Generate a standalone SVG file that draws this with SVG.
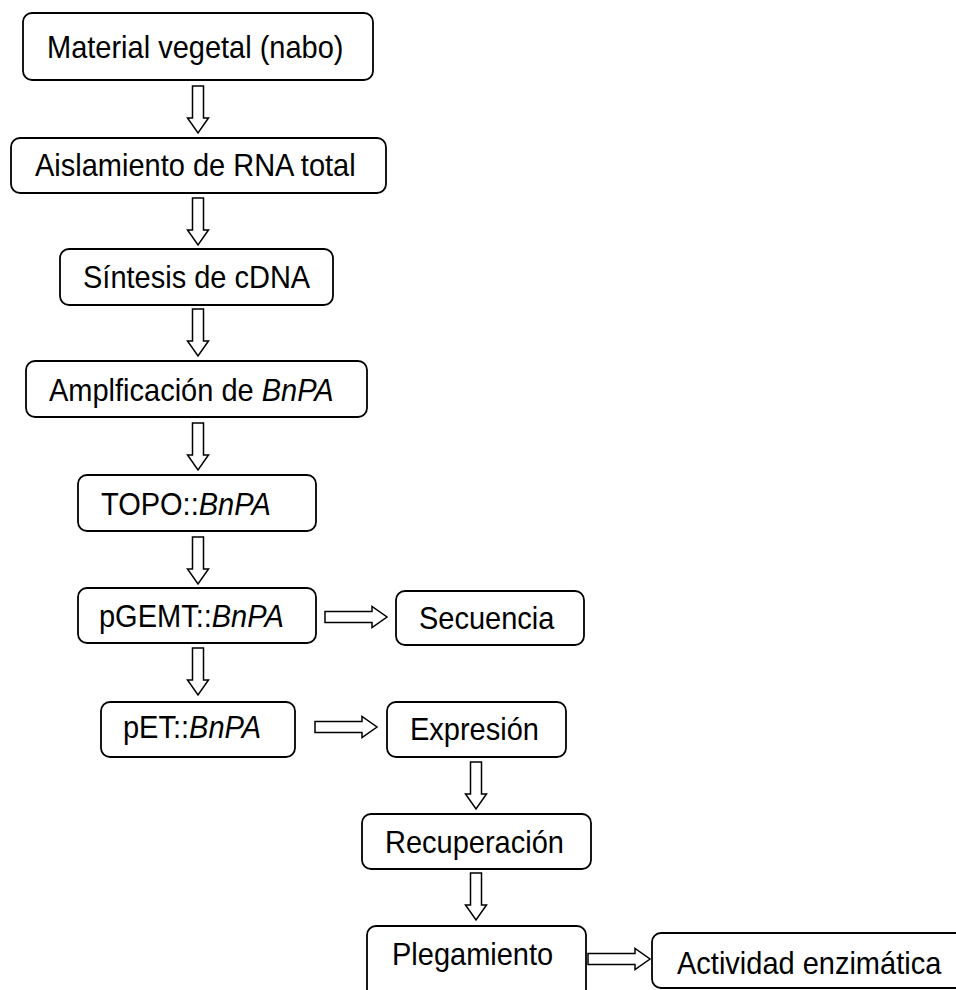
<svg xmlns="http://www.w3.org/2000/svg" xmlns:xlink="http://www.w3.org/1999/xlink" width="956" height="990" viewBox="0 0 956 990">
<style>
.box{fill:#fff;stroke:#000;stroke-width:1.8}
.arr{fill:#fff;stroke:#000;stroke-width:1.5;stroke-linejoin:miter}
.t{font-family:"Liberation Sans",Arial,sans-serif;font-size:29px;fill:#000}
.i{font-style:italic}
</style>
<defs>
<path id="va" d="M-5.5,0 H5.5 V32 H10.5 L0,47 L-10.5,32 H-5.5 Z"/>
<path id="ha" d="M0,-5.5 H47 V-10.5 L62,0 L47,10.5 V5.5 H0 Z"/>
</defs>
<rect width="956" height="990" fill="#fff"/>
<g id="connectors">
<use xlink:href="#va" href="#va" class="arr" x="198" y="86"/>
<use xlink:href="#va" href="#va" class="arr" x="198" y="198"/>
<use xlink:href="#va" href="#va" class="arr" x="198" y="309"/>
<use xlink:href="#va" href="#va" class="arr" x="198" y="423"/>
<use xlink:href="#va" href="#va" class="arr" x="198" y="537"/>
<use xlink:href="#va" href="#va" class="arr" x="198" y="648"/>
<use xlink:href="#va" href="#va" class="arr" x="476" y="762"/>
<use xlink:href="#va" href="#va" class="arr" x="476" y="873"/>
<use xlink:href="#ha" href="#ha" class="arr" x="325" y="617"/>
<use xlink:href="#ha" href="#ha" class="arr" x="315" y="727"/>
<use xlink:href="#ha" href="#ha" class="arr" x="588" y="959"/>
</g>
<g id="n1"><rect class="box" x="23" y="13" width="350" height="67" rx="9"/><text class="t" transform="translate(47,58) scale(1,1.08)">Material vegetal (nabo)</text></g>
<g id="n2"><rect class="box" x="11" y="138" width="375" height="55" rx="9"/><text class="t" transform="translate(35,176) scale(1,1.08)">Aislamiento de RNA total</text></g>
<g id="n3"><rect class="box" x="60" y="249" width="273" height="56" rx="9"/><text class="t" transform="translate(83,288) scale(1,1.08)">Síntesis de cDNA</text></g>
<g id="n4"><rect class="box" x="26" y="361" width="341" height="56" rx="9"/><text class="t" transform="translate(49,401) scale(1,1.08)">Amplficación de <tspan class="i">BnPA</tspan></text></g>
<g id="n5"><rect class="box" x="78" y="475" width="238" height="56" rx="9"/><text class="t" transform="translate(101,515) scale(1,1.08)">TOPO::<tspan class="i">BnPA</tspan></text></g>
<g id="n6"><rect class="box" x="78" y="588" width="238" height="55" rx="9"/><text class="t" transform="translate(99,627) scale(1,1.08)">pGEMT::<tspan class="i">BnPA</tspan></text></g>
<g id="n7"><rect class="box" x="396" y="591" width="188" height="54" rx="9"/><text class="t" transform="translate(419,629) scale(1,1.08)">Secuencia</text></g>
<g id="n8"><rect class="box" x="101" y="702" width="194" height="55" rx="9"/><text class="t" transform="translate(123,738) scale(1,1.08)">pET::<tspan class="i">BnPA</tspan></text></g>
<g id="n9"><rect class="box" x="387" y="702" width="179" height="55" rx="9"/><text class="t" transform="translate(410,740) scale(1,1.08)">Expresión</text></g>
<g id="n10"><rect class="box" x="362" y="814" width="229" height="55" rx="9"/><text class="t" transform="translate(385,853) scale(1,1.08)">Recuperación</text></g>
<g id="n11"><rect class="box" x="367" y="926" width="219" height="75" rx="9"/><text class="t" transform="translate(392,965) scale(1,1.08)">Plegamiento</text></g>
<g id="n12"><rect class="box" x="652" y="933" width="320" height="55" rx="9"/><text class="t" transform="translate(677,974) scale(1,1.08)">Actividad enzimática</text></g>
</svg>
